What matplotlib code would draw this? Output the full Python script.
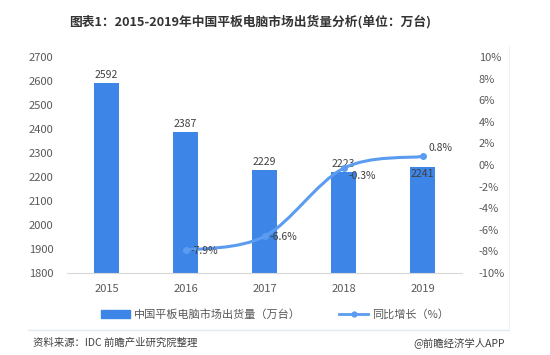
import matplotlib
matplotlib.use("Agg")
import matplotlib.pyplot as plt
from matplotlib.path import Path
from matplotlib.patches import PathPatch, Patch
from matplotlib.lines import Line2D
import numpy as np

plt.rcParams['font.family'] = ['Noto Sans CJK SC', 'DejaVu Sans']

years = ["2015", "2016", "2017", "2018", "2019"]
shipments = [2592, 2387, 2229, 2223, 2241]
growth_years = ["2016", "2017", "2018", "2019"]
growth = [-7.9, -6.6, -0.3, 0.8]

BAR = "#3d85e6"
LINE = "#5b9cf0"
TXT = "#595959"

fig = plt.figure(figsize=(5.5, 3.55), dpi=100)
ax = fig.add_axes([0.122, 0.231, 0.718, 0.608])
x = np.arange(len(years))
ax.bar(x, shipments, width=0.31, color=BAR, zorder=2)
ax.set_ylim(1800, 2700)
ax.set_xlim(-0.5, len(years) - 0.5)
ax.set_yticks(range(1800, 2701, 100))
ax.set_xticks(x)
ax.set_xticklabels(years)
ax.tick_params(axis="both", length=0, labelsize=8, colors=TXT, pad=8)
ax.tick_params(axis="y", pad=10)
for s in ["top", "right", "left"]:
    ax.spines[s].set_visible(False)
ax.spines["bottom"].set_color("#d9d9d9")

# bar value labels (the last one sits inside the bar top)
for i, v in enumerate(shipments):
    if i == len(shipments) - 1:
        ax.text(i, v - 8, str(v), ha="center", va="top", fontsize=7.5, color="#404040", zorder=5)
    else:
        ax.text(i, v + 12, str(v), ha="center", va="bottom", fontsize=7.5, color="#404040", zorder=5)

ax2 = ax.twinx()
ax2.set_ylim(-10, 10)
ax2.set_yticks(range(-10, 11, 2))
ax2.set_yticklabels([f"{t}%" for t in range(-10, 11, 2)])
ax2.tick_params(axis="y", length=0, labelsize=8, colors=TXT, pad=12)
for s in ["top", "right", "left", "bottom"]:
    ax2.spines[s].set_visible(False)

# smooth curve through the growth points (Catmull-Rom as cubic Bezier)
gx = np.array([years.index(y) for y in growth_years], dtype=float)
gy = np.array(growth, dtype=float)
pts = np.column_stack([gx, gy])
verts = [tuple(pts[0])]
codes = [Path.MOVETO]
for i in range(len(pts) - 1):
    p0 = pts[i - 1] if i > 0 else pts[i]
    p1, p2 = pts[i], pts[i + 1]
    p3 = pts[i + 2] if i + 2 < len(pts) else pts[i + 1]
    verts += [tuple(p1 + (p2 - p0) / 6), tuple(p2 - (p3 - p1) / 6), tuple(p2)]
    codes += [Path.CURVE4] * 3
ax2.add_patch(PathPatch(Path(verts, codes), fill=False, edgecolor=LINE, lw=2.2, zorder=3))
ax2.plot(gx, gy, "o", color=LINE, ms=4, zorder=4)

offsets = [(0.06, -0.1, "center"), (0.06, -0.1, "center"), (0.06, -0.7, "center"), (0.08, 0.3, "bottom")]
for xi, yi, (dx, dy, va) in zip(gx, gy, offsets):
    ax2.text(xi + dx, yi + dy, f"{yi:.1f}%", ha="left", va=va, fontsize=7.5, color="#404040", zorder=5)

handles = [Patch(color=BAR), Line2D([0], [0], color=LINE, lw=2, marker="o", ms=3.5)]
fig.legend(handles, ["中国平板电脑市场出货量（万台）", "同比增长（%）"], loc="center",
           bbox_to_anchor=(0.5, 0.115), ncol=2, frameon=False, fontsize=8,
           labelcolor=TXT, handlelength=2.6, columnspacing=3.5, handletextpad=0.3)

fig.text(0.455, 0.94, "图表1：2015-2019年中国平板电脑市场出货量分析(单位：万台)", ha="center", va="center",
         fontsize=9.2, fontweight="bold", color="#333333")

# card frame and footer
fig.add_artist(Line2D([0.05, 0.925], [0.07, 0.07], color="#e3e9f0", lw=1))
fig.add_artist(Line2D([0.925, 0.925], [0.07, 0.87], color="#eef2f6", lw=0.8))
fig.text(0.06, 0.035, "资料来源：IDC 前瞻产业研究院整理", ha="left", va="center", fontsize=7.5, color="#404040")
fig.text(0.918, 0.035, "@前瞻经济学人APP", ha="right", va="center", fontsize=7.5, color="#404040")

fig.savefig("out.png", dpi=100)
